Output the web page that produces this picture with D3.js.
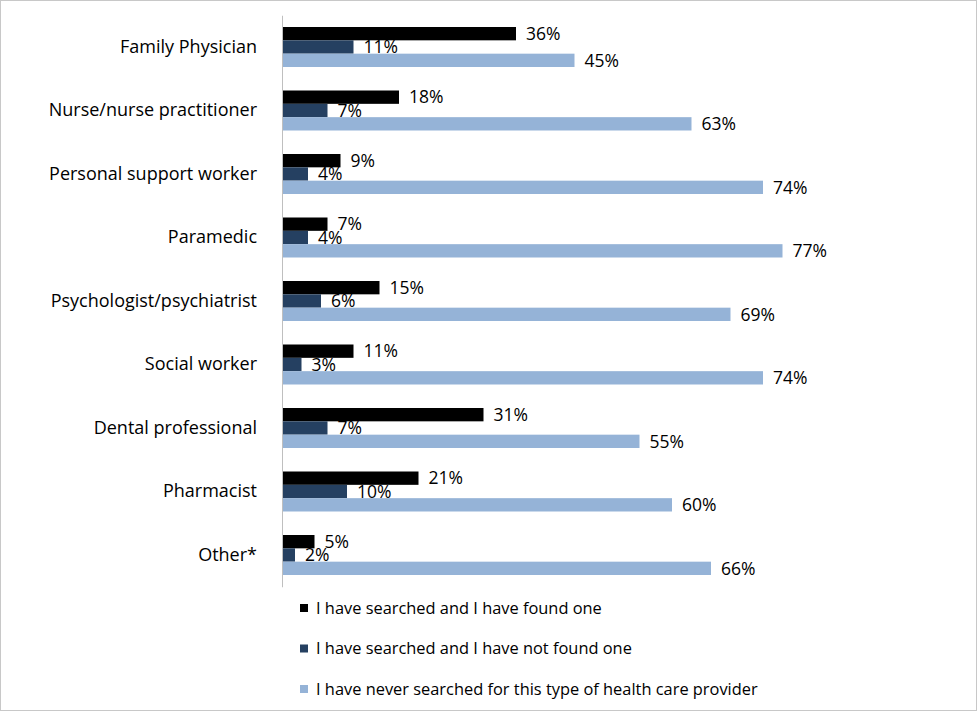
<!DOCTYPE html>
<html><head><meta charset="utf-8">
<script src="https://cdn.jsdelivr.net/npm/d3@7/dist/d3.min.js"></script>
<style>body{margin:0;background:#fff}svg{display:block}text{font-family:"Open Sans","Liberation Sans",sans-serif}</style>
</head><body><svg id="c" width="977" height="711"></svg>
<script>
const categories = ["Family Physician","Nurse/nurse practitioner","Personal support worker","Paramedic","Psychologist/psychiatrist","Social worker","Dental professional","Pharmacist","Other*"];
const seriesNames = ["I have searched and I have found one","I have searched and I have not found one","I have never searched for this type of health care provider"];
const foundOne = [36,18,9,7,15,11,31,21,5];
const notFound = [11,7,4,4,6,3,7,10,2];
const neverSearched = [45,63,74,77,69,74,55,60,66];
const colors = ["#000000","#254061","#95B3D7"];
const series = [foundOne, notFound, neverSearched];

const svg = d3.select("#c");
svg.append("rect").attr("x",0.5).attr("y",0.5).attr("width",976).attr("height",710).attr("fill","#fff").attr("stroke","#c8c8c8");

const x = d3.scaleLinear().domain([0,100]).range([282,932]);
const y = d3.scaleBand().domain(categories).range([15.25,586.75]);
const inner = d3.scaleBand().domain([0,1,2]).range([y.bandwidth()/2-20, y.bandwidth()/2+20]);

const g = svg.append("g");
categories.forEach((c,i)=>{
  const cg = g.append("g").attr("transform",`translate(0,${y(c)})`);
  series.forEach((s,k)=>{
    cg.append("rect").attr("x",x(0)).attr("y",inner(k)).attr("width",x(s[i])-x(0)).attr("height",inner.bandwidth()).attr("fill",colors[k]);
  });
  series.forEach((s,k)=>{
    cg.append("text").attr("x",x(s[i])+10).attr("y",inner(k)+inner.bandwidth()/2).attr("dy","0.36em")
      .attr("font-size",17.5).attr("fill","#000").text(s[i]+"%");
  });
});

const ax = svg.append("g").attr("transform","translate(282,0)").call(d3.axisLeft(y).tickSize(0).tickPadding(25));
ax.select(".domain").attr("stroke","#bfbfbf").attr("stroke-width",1);
ax.selectAll("text").attr("font-size",18).attr("fill","#000").style("font-family",'"Open Sans","Liberation Sans",sans-serif');

const leg = svg.append("g");
seriesNames.forEach((n,k)=>{
  const ly = 608 + k*40.5;
  leg.append("rect").attr("x",300).attr("y",ly-4).attr("width",8).attr("height",8).attr("fill",colors[k]);
  leg.append("text").attr("x",316).attr("y",ly).attr("dy","0.36em").attr("font-size",16.4).attr("fill","#000").text(n);
});
</script></body></html>
